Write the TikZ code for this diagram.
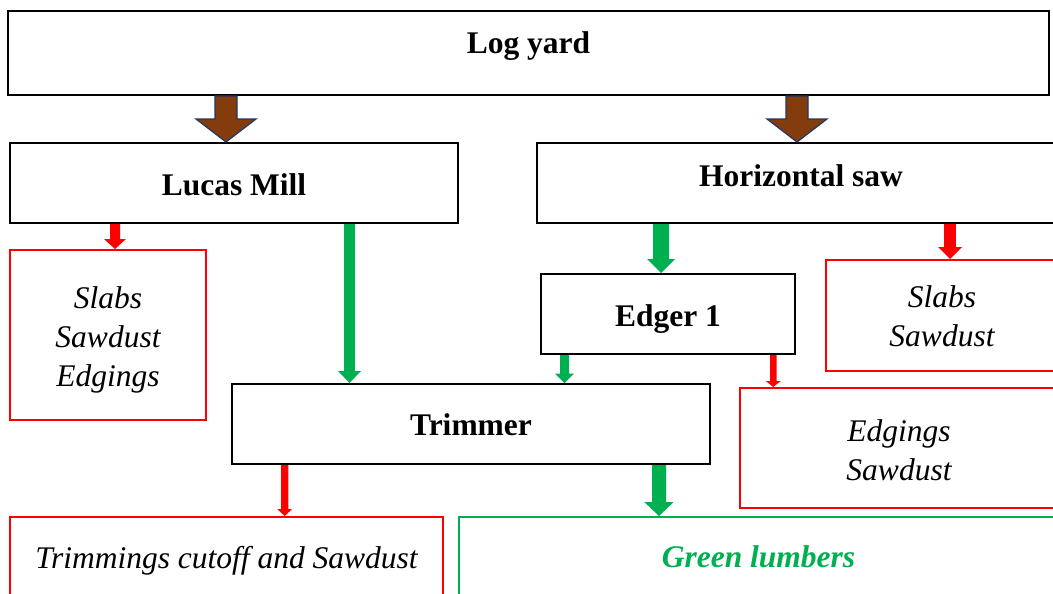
\documentclass[tikz,border=0pt]{standalone}
\usepackage{fontspec}
\setmainfont{Liberation Serif}
\usetikzlibrary{calc}

\definecolor{flowred}{HTML}{FF0000}
\definecolor{flowgreen}{HTML}{00B050}
\definecolor{logbrown}{HTML}{843C0C}
\definecolor{arrowedge}{HTML}{1F3864}

% block arrow straight down: style, start, end, shaft half-width, head half-width, head length
\newcommand{\blockarrow}[6]{%
  \path[#1] let \p1=(#2), \p2=(#3) in
    (\x1-#4,\y1) -- (\x1+#4,\y1) -- (\x1+#4,\y2+#6) -- (\x1+#5,\y2+#6)
    -- (\x1,\y2) -- (\x1-#5,\y2+#6) -- (\x1-#4,\y2+#6) -- cycle;
}

\tikzset{
  procbox/.style={draw=black, line width=2pt, fill=white, inner sep=0pt},
  wastebox/.style={draw=flowred, line width=2pt, fill=white, inner sep=0pt},
  productbox/.style={draw=flowgreen, line width=2pt, fill=white, inner sep=0pt},
  proctext/.style={inner sep=0pt, font=\fontsize{31.5}{38.6}\selectfont\bfseries},
  wastetext/.style={inner sep=0pt, align=center, font=\fontsize{31.5}{38.6}\selectfont\itshape},
  producttext/.style={inner sep=0pt, text=flowgreen, font=\fontsize{31.5}{38.6}\selectfont\bfseries\itshape},
  feedarrow/.style={fill=logbrown, draw=arrowedge, line width=1.2pt},
  wastearrow/.style={fill=flowred},
  goodarrow/.style={fill=flowgreen},
}

\begin{document}
\begin{tikzpicture}[x=1pt, y=-1pt]
\useasboundingbox (0,0) rectangle (1053,594);
\clip (0,0) rectangle (1053,594);

% process stages
\node[procbox, minimum width=1041pt, minimum height=84pt] (log) at (528.5,53) {};
\node[proctext, anchor=base] (logtext) at (528.5,54) {Log yard};
\node[procbox, minimum width=448pt, minimum height=80pt] (lucas) at (234,183) {};
\node[proctext] (lucastext) at ($(lucas.center)+(0,2)$) {Lucas Mill};
\node[procbox, minimum width=525pt, minimum height=80pt] (hsaw) at (799.5,183) {};
\node[proctext, anchor=base] (hsawtext) at (801,186) {Horizontal saw};
\node[procbox, minimum width=254pt, minimum height=80pt] (edger) at (668,314) {};
\node[proctext] (edgertext) at ($(edger.center)+(0,5)$) {Edger 1};
\node[procbox, minimum width=478pt, minimum height=80pt] (trimmer) at (471,424) {};
\node[proctext] (trimmertext) at ($(trimmer.center)+(0,1)$) {Trimmer};

% by-products
\node[wastebox, minimum width=196pt, minimum height=170pt] (slabsL) at (108,335) {};
\node[wastetext] (slabsLtext) at ($(slabsL.center)+(0,5)$) {Slabs\\Sawdust\\Edgings};
\node[wastebox, minimum width=232pt, minimum height=111pt] (slabsR) at (942,315.5) {};
\node[wastetext] (slabsRtext) at ($(slabsR.center)+(0,1)$) {Slabs\\Sawdust};
\node[wastebox, minimum width=318pt, minimum height=120pt] (edgings) at (899,448) {};
\node[wastetext] (edgingstext) at ($(edgings.center)+(0,2)$) {Edgings\\Sawdust};
\node[wastebox, minimum width=433pt, minimum height=80pt] (trimmings) at (226.5,557) {};
\node[wastetext] (trimmingstext) at ($(trimmings.center)+(0,4)$) {Trimmings cutoff and Sawdust};

% final product
\node[productbox, minimum width=599pt, minimum height=80pt] (green) at (758.5,557) {};
\node[producttext] (greentext) at (green.center) {Green lumbers};

% log feed
\blockarrow{feedarrow}{log.south -| 226,0}{lucas.north -| 226,0}{11pt}{30pt}{23pt}
\blockarrow{feedarrow}{log.south -| 797,0}{hsaw.north -| 797,0}{11pt}{30pt}{23pt}

% Lucas Mill outputs
\blockarrow{wastearrow}{lucas.south -| 115,0}{slabsL.north -| 115,0}{5pt}{11pt}{10pt}
\blockarrow{goodarrow}{lucas.south -| 349.5,0}{trimmer.north -| 349.5,0}{5.3pt}{11.5pt}{12pt}

% Horizontal saw outputs
\blockarrow{goodarrow}{hsaw.south -| 661,0}{edger.north -| 661,0}{8pt}{14pt}{14pt}
\blockarrow{wastearrow}{hsaw.south -| 950,0}{slabsR.north -| 950,0}{5.8pt}{12pt}{12pt}

% Edger outputs
\blockarrow{goodarrow}{edger.south -| 564.5,0}{trimmer.north -| 564.5,0}{4.5pt}{9.5pt}{9.4pt}
\blockarrow{wastearrow}{edger.south -| 773.3,0}{edgings.north -| 773.3,0}{3.3pt}{7.5pt}{6pt}

% Trimmer outputs
\blockarrow{wastearrow}{trimmer.south -| 284.7,0}{trimmings.north -| 284.7,0}{3.7pt}{7.5pt}{7pt}
\blockarrow{goodarrow}{trimmer.south -| 659,0}{green.north -| 659,0}{7pt}{14.7pt}{14pt}
\end{tikzpicture}
\end{document}
